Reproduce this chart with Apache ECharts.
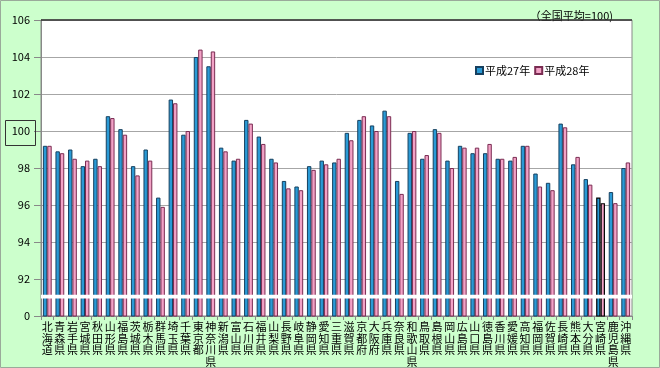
<!DOCTYPE html>
<html><head><meta charset="utf-8">
<script src="https://cdn.jsdelivr.net/npm/echarts@6/dist/echarts.min.js"></script>
<style>html,body{margin:0;padding:0;background:#ccffcc;}#c{width:660px;height:368px;}</style>
</head><body><div id="c"></div>
<script>
const categories = ['北海道','青森県','岩手県','宮城県','秋田県','山形県','福島県','茨城県','栃木県','群馬県','埼玉県','千葉県','東京都','神奈川県','新潟県','富山県','石川県','福井県','山梨県','長野県','岐阜県','静岡県','愛知県','三重県','滋賀県','京都府','大阪府','兵庫県','奈良県','和歌山県','鳥取県','島根県','岡山県','広島県','山口県','徳島県','香川県','愛媛県','高知県','福岡県','佐賀県','長崎県','熊本県','大分県','宮崎県','鹿児島県','沖縄県'];
const h27 = [99.2,98.9,99.0,98.1,98.5,100.8,100.1,98.1,99.0,96.4,101.7,99.8,104.0,103.5,99.1,98.4,100.6,99.7,98.5,97.3,97.0,98.1,98.4,98.3,99.9,100.6,100.3,101.1,97.3,99.9,98.5,100.1,98.4,99.2,98.8,98.8,98.5,98.4,99.2,97.7,97.2,100.4,98.2,97.4,96.4,96.7,98.0];
const h28 = [99.2,98.8,98.5,98.4,98.1,100.7,99.8,97.6,98.4,95.9,101.5,100.0,104.4,104.3,98.9,98.5,100.4,99.3,98.3,96.9,96.8,97.9,98.2,98.5,99.5,100.8,100.0,100.8,96.6,100.0,98.7,99.9,98.0,99.1,99.1,99.3,98.5,98.6,99.2,97.0,96.8,100.2,98.6,97.1,96.1,96.1,98.3];
const yTicks = [90,92,94,96,98,100,102,104,106];
const highlight = '宮崎県';

const font = '"Noto Sans CJK JP", sans-serif';
const chart = echarts.init(document.getElementById('c'));
function mk(data){
  return data.map((v,i)=>({value:v, itemStyle: categories[i]===highlight ? {borderColor:'#000', borderWidth:1.2} : {}}));
}
chart.setOption({
  animation:false,
  backgroundColor:'#ccffcc',
  textStyle:{fontFamily:font},
  grid:{left:41,right:28,top:20,bottom:52,show:true,backgroundColor:'#ffffff',borderColor:'#888888',borderWidth:1},
  legend:{left:475,top:65,padding:0,itemWidth:7,itemHeight:7,itemGap:4,icon:'rect',
    textStyle:{fontSize:11,color:'#000',fontFamily:font,padding:[0,0,0,-3]},
    data:['平成27年','平成28年']},
  title:{text:'（全国平均=100)',right:42,top:5,textStyle:{fontSize:11,fontWeight:'normal',color:'#000',fontFamily:font}},
  xAxis:{type:'category',data:categories,
    axisLine:{lineStyle:{color:'#888888'}},
    axisTick:{show:true,length:4,lineStyle:{color:'#888888'}},
    axisLabel:{interval:0,fontSize:11,lineHeight:11.7,color:'#000',margin:5,fontFamily:font,
      formatter:v=>v.split('').join('\n')}},
  yAxis:{type:'value',min:yTicks[0],max:yTicks[yTicks.length-1],interval:2,
    axisLine:{show:true,lineStyle:{color:'#888888'}},
    axisTick:{show:true,length:7,lineStyle:{color:'#888888'}},
    splitLine:{lineStyle:{color:'#a6a6a6'}},
    axisLabel:{fontSize:11,color:'#000',margin:11,fontFamily:font,
      formatter:v=>v===yTicks[0]?'0':String(v)}},
  graphic:[
    {type:'rect',shape:{x:5.5,y:120.5,width:30,height:25},style:{fill:'transparent',stroke:'#333',lineWidth:1},z:100},
    {type:'line',shape:{x1:41,y1:20,x2:632,y2:20},style:{stroke:'#333',lineWidth:1.5},z:100},
    {type:'rect',shape:{x:0.5,y:0.5,width:659,height:367},style:{fill:'transparent',stroke:'#9aaa9a',lineWidth:1},z:100}
  ],
  series:[
    {name:'平成27年',type:'bar',data:mk(h27),barGap:'0%',barCategoryGap:'30%',
      itemStyle:{color:'#2a9ad6',borderColor:'#16405f',borderWidth:1},
      markArea:{silent:true,itemStyle:{color:'#ffffff',opacity:1},data:[[{yAxis:90.95},{yAxis:91.15}]],z:10}},
    {name:'平成28年',type:'bar',data:mk(h28),
      itemStyle:{color:'#f2a2c6',borderColor:'#7a2c52',borderWidth:1}}
  ]
});
</script></body></html>
